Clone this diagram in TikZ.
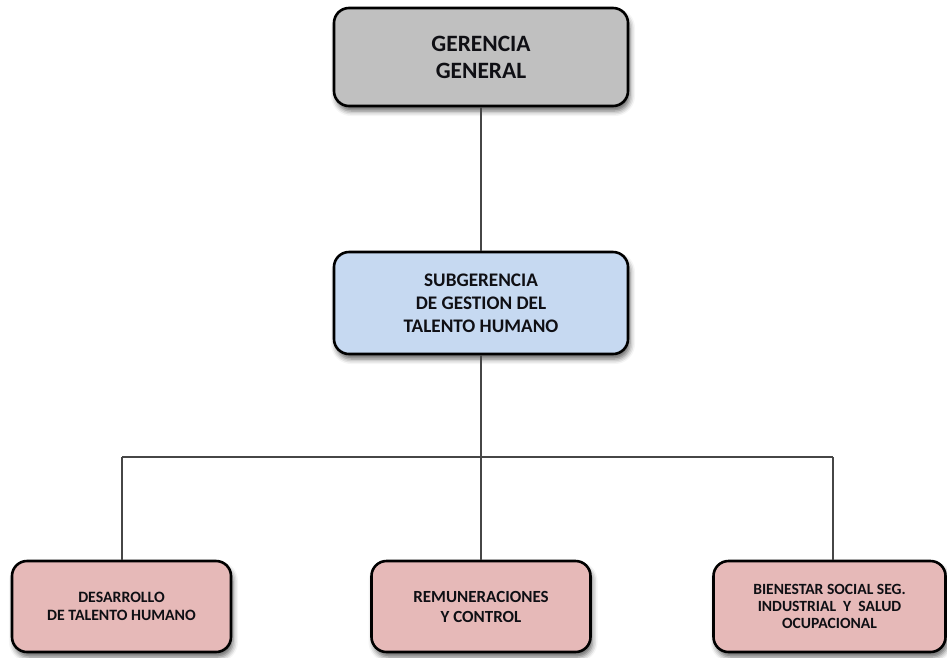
\documentclass[tikz,border=0pt]{standalone}
\usepackage{fontspec}
\setmainfont{Carlito}
\usetikzlibrary{shadows.blur}
\definecolor{boxgray}{RGB}{192,192,192}
\definecolor{boxblue}{RGB}{198,217,241}
\definecolor{boxpink}{RGB}{230,185,184}
\definecolor{linkgray}{RGB}{70,70,70}
\definecolor{textdark}{RGB}{15,15,20}
\begin{document}
\begin{tikzpicture}[x=1pt,y=1pt,
  unit/.style={draw=black, line width=2.6pt, rounded corners=15pt,
    align=center, text=textdark, inner sep=0pt,
    blur shadow={shadow xshift=2pt, shadow yshift=-5pt, shadow blur radius=5pt, shadow opacity=60}},
  head/.style={unit, fill=boxgray, minimum width=294pt, minimum height=98pt},
  sub/.style={unit, fill=boxblue, minimum width=294pt, minimum height=102pt},
  area/.style={unit, fill=boxpink, minimum height=91pt},
  link/.style={draw=linkgray, line width=1.3pt}]
\useasboundingbox (0,0) rectangle (947,-657);

% reporting lines
\coordinate (bus) at (481,-457);
\coordinate (busL) at (122,-457);
\coordinate (busR) at (833,-457);

% units
\node[head, font=\fontsize{23.4}{27}\selectfont\bfseries] (gg) at (481,-57) {GERENCIA\\GENERAL};
\node[sub, font=\fontsize{19.2}{23}\selectfont\bfseries] (sgth) at (481,-303) {SUBGERENCIA\\DE GESTION DEL\\TALENTO HUMANO};

\draw[link] (gg.south) -- (sgth.north);
\draw[link] (sgth.south) -- (bus);
\draw[link] (busL) -- (busR);

\node[area, minimum width=219pt, font=\fontsize{15.8}{18}\selectfont\bfseries] (dth) at (121.5,-606.5) {DESARROLLO\\DE TALENTO HUMANO};
\node[area, minimum width=219pt, font=\fontsize{17}{20}\selectfont\bfseries] (rem) at (481,-606.5) {REMUNERACIONES\\Y CONTROL};
\node[area, minimum width=232pt, font=\fontsize{15.6}{17}\selectfont\bfseries] (bss) at (829.5,-606.5) {BIENESTAR SOCIAL SEG.\\INDUSTRIAL~ Y~ SALUD\\OCUPACIONAL};

\draw[link] (busL) -- (busL |- dth.north);
\draw[link] (bus) -- (rem.north);
\draw[link] (busR) -- (busR |- bss.north);
\end{tikzpicture}
\end{document}
